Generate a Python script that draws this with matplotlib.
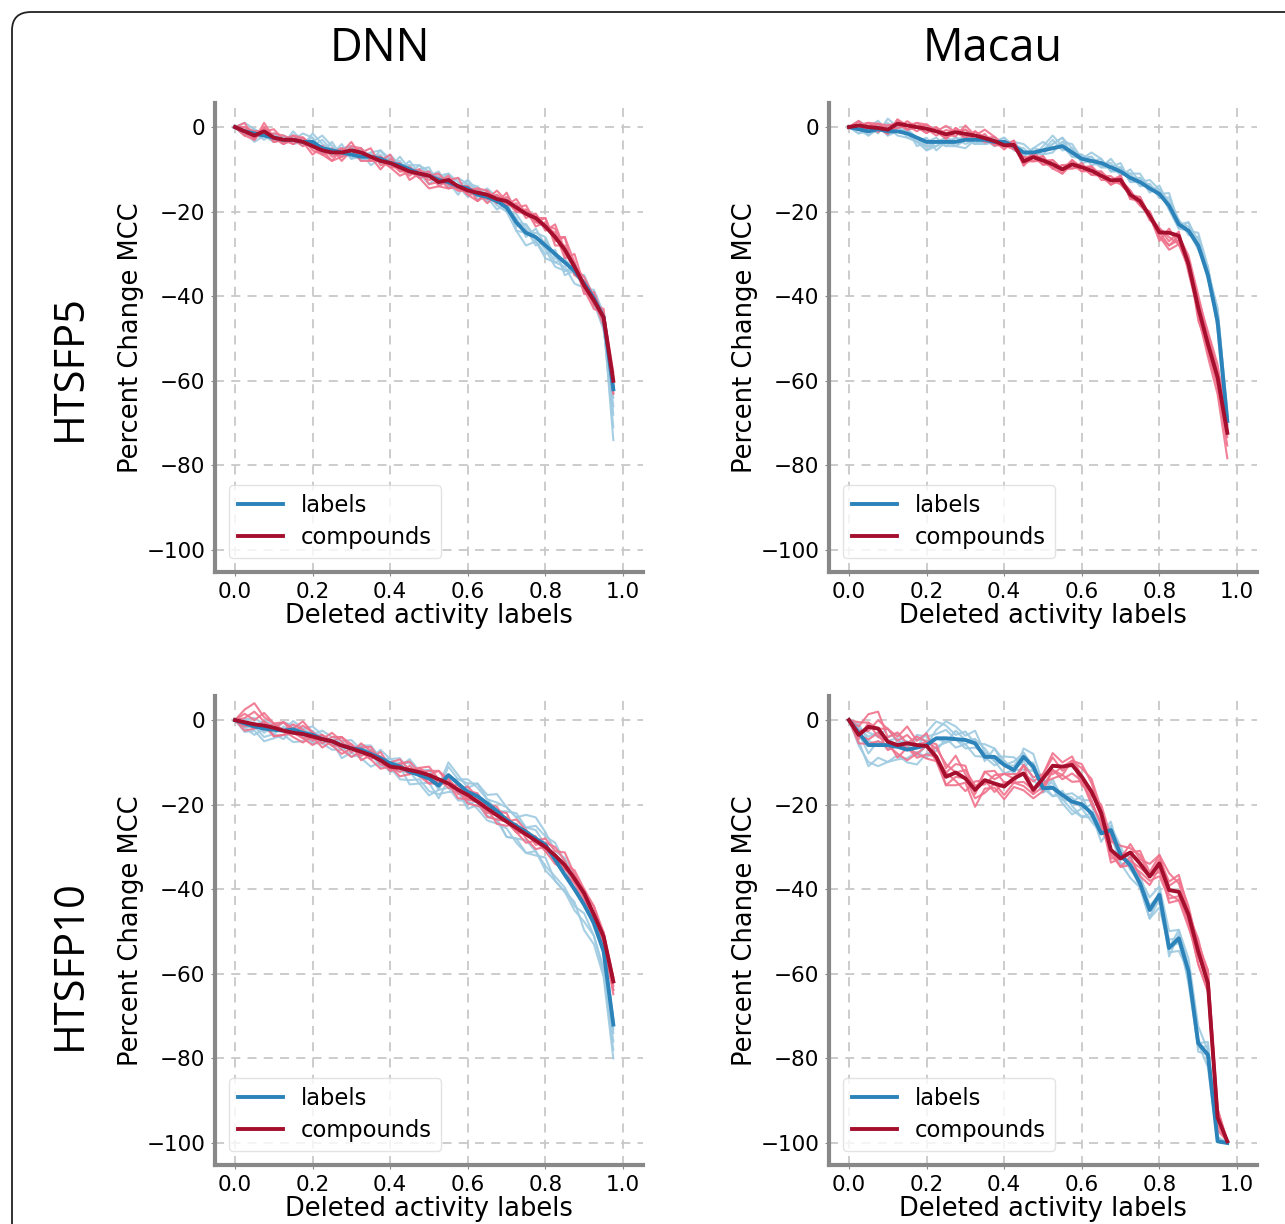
import numpy as np
import matplotlib.pyplot as plt
from matplotlib.patches import FancyBboxPatch

# fraction of deleted activity labels (0 .. 0.975, step 0.025)
x = np.arange(40) * 0.025

# mean curves
dnn5_labels = [0, -1, -1.5, -2, -2.5, -3, -3, -3.5, -3.5, -5, -5.5, -6, -6.5, -7, -7,
               -7.5, -8.5, -9, -10, -11, -11.5, -12.5, -13, -14, -14.5, -16, -16.5,
               -17.5, -19, -22.5, -25, -26, -28, -30, -32, -34, -37, -40.5, -45, -62]
dnn5_compounds = [0, -1, -2, -1, -2.5, -3, -3, -3.5, -4.5, -5.5, -6, -6, -5.5, -6, -7,
                  -8, -8.5, -9.5, -10.5, -11, -11.5, -13, -12.5, -14, -15, -15.5, -16,
                  -17, -17.5, -19, -20.5, -21.5, -23.5, -26, -29, -33, -37.5, -41, -45, -60]
macau5_labels = [0, -0.5, -1, -0.5, -1, -1, -1.5, -2.5, -3.5, -3.5, -3.5, -3.5, -3, -3,
                 -3, -3.5, -3.5, -4.5, -6, -6, -5.5, -5, -4.5, -6, -7.5, -8, -8.5, -9.5,
                 -10.5, -12, -13, -14.5, -15.8, -18.6, -23, -24.5, -28, -35, -46, -69.5]
macau5_compounds = [0, 0.4, 0, -0.2, -0.6, 0.8, 0.4, 0, -0.4, -1, -1.7, -1.2, -1.6, -2,
                    -2.6, -3.3, -4.3, -4.2, -8.1, -7.1, -7.9, -8.8, -10, -8.8, -9.5, -10.3,
                    -11.5, -12.6, -12.5, -16, -17.5, -21, -24.9, -25, -25.7, -32.4, -42.7,
                    -51.3, -59.2, -72.3]
dnn10_labels = [0, -0.8, -1.5, -2, -2.3, -2.5, -2.2, -3, -3.5, -4.5, -5, -6, -6.7, -7,
                -8, -9, -10.2, -11, -12.2, -13, -13.8, -15.5, -13, -15, -17, -18, -19.7,
                -21.5, -23.6, -25, -26.4, -28, -29.5, -33, -36.6, -40, -43.7, -48, -54.7, -72]
dnn10_compounds = [0, -0.5, -1, -1.3, -1.8, -2.5, -3, -3.3, -3.9, -4.5, -5, -6, -6.7,
                   -7.5, -8.3, -9.5, -11, -11.3, -11.8, -12.3, -13, -14, -15, -16.5, -17.7,
                   -19.3, -20.9, -22.5, -24, -25.5, -27, -28.5, -30, -32, -34.3, -37.5,
                   -41, -46, -51.2, -61.8]
macau10_labels = [0, -3, -5.9, -5.9, -5.9, -6.3, -7, -6.5, -5.9, -4.3, -4.3, -4.5, -4.7,
                  -5.5, -8.7, -8.7, -10.6, -11.8, -8.7, -11, -16.1, -16, -17.7, -19.3,
                  -19.9, -22, -26.8, -26, -31.9, -34.3, -38.6, -44.9, -41.3, -53.9, -51.6,
                  -59.4, -76.4, -79.1, -99.6, -100]
macau10_compounds = [0, -3.5, -1.6, -2, -5.1, -5.9, -5.5, -5.9, -6.1, -8.7, -13.4, -12.4,
                     -13.8, -16.5, -14.2, -15, -15.7, -13.8, -12.6, -16.5, -13.8, -10.8,
                     -11, -10.6, -13.4, -16.9, -22, -30.7, -32.7, -31.3, -33.9, -37, -33.9,
                     -40.2, -40.6, -46, -54.7, -62.2, -94, -99.6]

# per-run deviations from the mean (thin lines), read approximately
dnn5_labels_runs = [
    "0 1 0 -1 1 0 1 -1 2 1 0 1 2 -1 1 2 0 1 -1 2 1 0 2 1 -1 0 2 1 0 1 -1 2 0 -2 1 -1 2 0 -1 -12",
    "0 -1 1 0 -1 1 -1 0 1 -1 2 -1 0 1 -2 0 1 -1 2 0 -2 1 -1 2 1 -1 0 -2 1 -1 2 -1 -2 1 -3 0 -1 2 1 -6",
    "0 1 -1 1 0 -1 0 1 -1 0 -1 2 -1 0 1 -1 2 0 1 -1 0 2 -1 0 -2 1 -1 0 2 -2 0 1 2 -1 0 2 -2 -1 -3 -2",
    "0 -1 0 1 -1 0 1 0 -1 2 0 -1 1 -1 0 1 -1 2 0 -1 1 -1 0 -2 2 0 1 -1 -1 2 1 -2 1 0 -2 1 0 -2 0 2",
    "0 0 -2 0 1 -1 2 0 0 3 1 0 2 0 -1 2 1 -1 1 2 0 1 2 -1 1 2 0 1 -1 -2 -3 -1 -3 -2 -1 -3 -1 0 -2 -9",
    "0 2 1 0 -1 1 0 2 1 -1 0 1 -1 2 0 -1 1 0 -1 1 2 -1 1 0 2 1 -1 0 1 0 2 0 -1 -3 -2 0 -1 1 -2 -4",
]
dnn5_compounds_runs = [
    "0 2 -1 1 0 -1 1 0 -2 1 -1 0 2 -1 0 -2 1 0 -1 1 -2 0 1 -1 0 1 -1 2 0 -1 1 0 2 -1 3 -2 1 -1 2 -3",
    "0 -1 1 0 -1 0 -1 1 0 -1 1 -2 0 1 -1 0 2 -1 1 0 1 -1 0 2 -1 0 -2 1 -1 2 0 1 -1 3 0 1 -2 2 0 1",
    "0 1 0 -1 1 1 0 -1 1 0 -2 1 -1 0 2 -1 0 1 -2 0 -1 1 -1 0 1 -2 0 -1 1 0 2 -1 0 1 -2 3 0 -1 1 2",
    "0 0 -1 2 0 -1 0 1 -1 -1 0 1 -1 -1 0 1 -1 0 1 -1 0 2 -1 -1 0 1 1 -1 2 -1 0 -1 2 -2 1 -1 1 0 -2 -1",
    "0 1 1 0 2 0 -1 1 0 -1 -2 -1 0 -2 -1 0 -1 -2 0 -1 -3 -1 -2 0 -1 -2 1 0 -1 1 -1 1 0 2 -1 0 2 1 -1 -3",
    "0 -1 -1 1 -1 0 1 1 0 1 0 -1 1 1 -1 1 0 -1 0 1 0 1 -2 0 1 0 -1 1 0 -1 1 -2 1 0 3 1 -1 -2 1 0",
]
macau5_labels_runs = [
    "0 2 1 -1 3 1 0 -1 1 -2 0 1 -1 0 1 -1 0 1 -1 1 0 2 -1 1 0 2 1 -1 1 0 1 -1 2 0 1 -1 2 1 3 2",
    "0 -1 0 1 -1 0 1 -2 0 1 -1 -1 0 1 0 1 -1 0 1 -1 1 3 0 -1 1 -1 0 1 -1 2 0 1 -1 2 1 0 -1 2 -2 -3",
    "0 0 -1 0 1 -1 -1 0 -2 -1 1 0 1 -1 -1 0 1 -1 0 0 -1 1 2 -1 0 1 -1 0 2 -1 1 0 1 -1 -1 2 1 0 1 1",
    "0 1 1 2 0 1 0 -1 -1 0 -1 1 0 -1 1 0 -1 1 2 0 -1 -1 1 0 1 0 -1 2 0 1 -1 1 0 3 0 1 0 -1 2 -1",
    "0 -1 1 0 2 0 1 0 -1 -1 0 -1 -2 0 -1 0 1 0 -1 1 2 0 1 2 0 1 -1 0 1 -1 0 2 1 0 -1 0 3 2 1 -2",
    "0 1 -1 1 -1 2 -1 -1 -2 0 1 -1 0 -1 0 -1 0 1 0 -1 0 1 2 1 -1 0 1 -1 0 1 2 0 1 1 0 2 0 1 3 1",
]
macau5_compounds_runs = [
    "0 -1 1 0 -1 1 -1 0 1 0 -1 1 -1 1 0 -1 1 0 -1 0 1 -1 1 -1 0 1 0 -1 1 -1 0 -1 1 -1 -2 1 -2 -3 -4 -6",
    "0 1 -1 1 0 -1 1 0 -1 1 0 -1 2 0 -1 0 -1 1 0 1 -1 0 -1 1 -1 0 1 -1 0 1 -1 1 -1 -3 0 2 3 2 1 3",
    "0 0 1 -1 1 0 -1 1 0 -1 1 0 -1 1 0 1 0 -1 1 -1 0 1 0 -1 1 -1 0 1 -1 0 1 0 -2 1 -2 -1 1 -2 -2 -3",
    "0 1 0 0 -1 1 0 -1 1 0 -1 1 0 -1 1 -1 0 1 -1 1 0 -1 1 0 -1 1 -1 0 1 -1 1 0 1 -2 1 -2 -1 2 2 4",
    "0 0 1 1 0 -1 0 1 1 0 2 0 1 0 2 1 0 -1 1 0 -1 1 0 1 0 -1 1 0 -1 0 -1 1 0 -3 -1 1 -3 -1 -2 -1",
    "0 -1 0 1 1 0 -1 0 -1 1 -1 0 1 -1 0 -1 1 0 0 -1 1 -1 -1 0 0 1 0 -1 0 1 -1 0 -1 -4 -2 0 2 3 3 2",
]
dnn10_labels_runs = [
    "0 -2 -1 -3 -2 -1 -3 -2 0 -1 -2 -1 1 -1 0 -2 -1 -3 -2 -1 -3 -2 -4 -2 -3 -1 -3 -2 -4 -3 -5 -4 -3 -5 -4 -3 -6 -5 -6 -8",
    "0 1 2 1 0 2 1 -1 1 0 -1 2 0 1 -1 2 1 0 3 1 2 0 3 2 1 3 2 4 3 2 4 5 3 2 4 3 2 1 2 -2",
    "0 -1 0 -2 -1 1 -1 0 -2 1 -1 0 -2 -1 1 0 -2 -1 0 -2 -1 -3 -1 -2 -4 -2 -3 -2 -4 -3 -2 -3 -5 -4 -3 -4 -2 -3 -4 -4",
    "0 0 1 -1 1 0 2 1 0 2 1 1 -1 1 2 0 1 2 0 1 2 1 -1 1 2 3 1 2 3 2 1 3 2 4 3 2 3 1 2 1",
    "0 -1 -2 0 -1 -2 0 -1 -2 -1 0 -3 -1 -2 -3 -1 -2 0 -3 -2 -4 -1 -3 -4 -2 -3 -4 -3 -2 -4 -5 -3 -6 -5 -4 -5 -4 -3 -5 -6",
    "0 1 0 2 1 2 0 1 2 1 0 1 2 0 1 -1 0 1 2 0 1 -1 2 1 3 2 1 0 2 3 1 2 0 1 2 0 1 -1 0 -1",
]
dnn10_compounds_runs = [
    "0 2 1 3 1 2 0 2 1 -1 1 2 0 1 2 0 -1 1 2 0 1 2 1 0 2 1 -1 1 0 2 1 -1 1 2 1 -1 1 2 0 -1",
    "0 -2 -1 0 -2 -1 1 -1 -2 0 -1 -2 0 -1 1 -1 0 -2 -1 0 -2 -1 0 -2 -1 0 -2 -1 0 -1 -2 0 -1 -2 -1 0 -1 -2 -1 -3",
    "0 1 3 1 0 2 1 3 1 0 2 1 -1 2 1 0 1 2 0 1 2 0 1 -1 1 2 0 1 2 -1 1 0 2 1 3 1 0 2 1 1",
    "0 -1 0 -1 1 0 -1 -2 0 1 -1 0 1 -2 0 1 -1 0 -1 1 0 -1 1 0 -1 1 -1 0 1 -1 0 1 -1 0 -1 1 0 -1 -1 -2",
    "0 3 5 2 1 0 2 1 -1 1 0 2 1 0 -1 2 0 1 -1 1 0 2 0 1 -1 0 1 2 0 -1 1 0 1 -1 0 2 1 0 1 0",
    "0 0 -1 1 -2 -1 0 -1 0 -2 0 -1 -2 0 -1 -2 0 -1 1 -1 -2 0 -1 0 -2 -1 0 -2 -1 1 -1 -2 0 -1 -2 -1 -2 -1 -2 -2",
]
macau10_labels_runs = [
    "0 -2 -5 -3 -4 -2 -3 -4 -2 -3 0 -2 -1 -3 0 -2 1 0 -3 -1 2 0 -1 -2 -3 -1 2 0 1 -1 2 1 0 -2 1 -3 -1 2 0 0",
    "0 1 3 2 4 1 2 0 3 4 3 1 2 0 3 2 1 -1 2 3 1 -2 0 2 1 3 1 -2 0 2 1 3 2 4 2 3 4 1 1 0",
    "0 0 -2 1 -1 0 1 -2 0 2 4 3 1 3 1 0 2 3 -2 1 0 -2 1 -1 -3 0 -2 1 -2 0 -1 -2 1 -1 -3 0 -2 0 0 0",
    "0 2 1 0 2 3 1 2 1 0 -1 2 0 1 -1 2 0 1 1 0 -1 2 -1 0 2 -1 0 2 -1 1 0 -2 -1 2 0 -1 1 -1 1 0",
    "0 -3 -4 -5 -4 -3 -2 -1 -3 -2 -1 0 -2 -1 1 -1 -2 0 -1 -3 -1 0 -2 -3 -1 -2 0 -1 -2 -3 -1 -2 -3 0 -1 -2 0 -3 0 0",
    "0 1 2 3 1 2 0 3 2 1 2 0 -1 1 2 -1 0 2 1 -1 2 1 0 1 -1 2 0 1 2 -1 0 1 -1 0 2 1 0 3 0 0",
]
macau10_compounds_runs = [
    "0 2 3 4 1 3 0 2 1 3 2 4 1 0 2 3 1 -1 2 3 1 -2 0 1 2 3 1 -2 0 2 1 3 2 1 3 2 1 3 2 0",
    "0 -2 -4 -3 -1 -2 -4 -2 -3 -1 -2 -3 -1 -4 -2 -1 -3 -2 -4 -2 -3 -1 -2 -4 -1 -3 -2 0 -2 -1 -3 -2 -1 -3 -2 -1 -3 -2 -2 0",
    "0 1 -1 2 3 1 2 0 1 2 3 0 2 1 -1 2 3 1 0 2 1 2 -1 1 3 2 0 2 3 1 2 0 1 2 4 1 2 3 1 0",
    "0 -1 1 -2 0 -3 -1 -2 0 -1 1 -2 -3 2 0 -2 1 -1 -2 0 -1 -3 -2 1 -2 0 -1 -3 0 -2 -1 0 -2 -1 -2 -3 -1 0 -3 0",
    "0 3 1 0 3 2 4 1 3 0 1 2 3 -1 2 1 3 0 2 -1 1 3 1 2 0 -1 2 3 1 0 3 1 2 4 2 0 3 1 2 0",
    "0 0 -3 -1 -2 0 -1 -3 -2 0 -2 -1 0 -2 -3 0 -2 -1 -3 -1 -2 -1 -3 -2 -1 -2 -3 -1 -2 -3 -2 -1 -3 -2 -1 -2 -3 -2 0 0",
]

row_names = ["HTSFP5", "HTSFP10"]
col_names = ["DNN", "Macau"]
legend_names = ["labels", "compounds"]

panels = [
    [(dnn5_labels, dnn5_labels_runs, dnn5_compounds, dnn5_compounds_runs),
     (macau5_labels, macau5_labels_runs, macau5_compounds, macau5_compounds_runs)],
    [(dnn10_labels, dnn10_labels_runs, dnn10_compounds, dnn10_compounds_runs),
     (macau10_labels, macau10_labels_runs, macau10_compounds, macau10_compounds_runs)],
]

blue_dark, blue_light = "#2b83ba", "#9ecae1"
red_dark, red_light = "#a50f2d", "#f0728c"

plt.rcParams["font.family"] = "DejaVu Sans"
fig = plt.figure(figsize=(12.85, 12.24), dpi=100)

# rounded frame around the whole figure
frame = FancyBboxPatch((12 / 1285, -0.05), 1.2, 1 - 12 / 1224 + 0.05,
                       boxstyle="round,pad=0,rounding_size=0.015",
                       transform=fig.transFigure, fill=False, edgecolor="#222222",
                       linewidth=1.3)
fig.patches.append(frame)

lefts = [215 / 1285, 829 / 1285]
bottoms = [1 - 572 / 1224, 1 - 1165 / 1224]
w, h = 428 / 1285, 469 / 1224

for r in range(2):
    for c in range(2):
        ax = fig.add_axes([lefts[c], bottoms[r], w, h])
        lab, lab_runs, cmp_, cmp_runs = panels[r][c]
        lab = np.array(lab)
        cmp_ = np.array(cmp_)
        for run in lab_runs:
            dev = np.array(run.split(), dtype=float)
            ax.plot(x, np.maximum(lab + dev, -100), color=blue_light, lw=1.5, alpha=0.9)
        for run in cmp_runs:
            dev = np.array(run.split(), dtype=float)
            ax.plot(x, np.maximum(cmp_ + dev, -100), color=red_light, lw=1.5, alpha=0.9)
        ax.plot(x, lab, color=blue_dark, lw=2.8, label=legend_names[0])
        ax.plot(x, cmp_, color=red_dark, lw=2.8, label=legend_names[1])

        ax.set_xlim(-0.0515, 1.0515)
        ax.set_ylim(-105.2, 5.7)
        ax.set_xticks([0, 0.2, 0.4, 0.6, 0.8, 1.0])
        ax.set_yticks([0, -20, -40, -60, -80, -100])
        ax.grid(True, linestyle=(0, (5, 4)), color="#c8c8c8", linewidth=1.3)
        ax.set_axisbelow(True)
        for s in ["top", "right"]:
            ax.spines[s].set_visible(False)
        for s in ["left", "bottom"]:
            ax.spines[s].set_color("#888888")
            ax.spines[s].set_linewidth(3)
        ax.tick_params(labelsize=15.5, length=3, color="#888888", pad=4)
        ax.set_xlabel("Deleted activity labels", fontsize=18.5, labelpad=1)
        ax.set_ylabel("Percent Change MCC", fontsize=18.5, labelpad=2)
        leg = ax.legend(loc="lower left", fontsize=16.3, frameon=True,
                        handlelength=2.0, borderaxespad=0.6, labelspacing=0.4)
        leg.get_frame().set_edgecolor("#dddddd")
        for line in leg.get_lines():
            line.set_linewidth(2.8)

for c, name in enumerate(col_names):
    fig.text([380 / 1285, 993 / 1285][c], 1 - 49 / 1224, name, ha="center",
             va="center", fontsize=32.5, family="Open Sans")
for r, name in enumerate(row_names):
    fig.text(70 / 1285, 1 - [368 / 1224, 965 / 1224][r], name, ha="center",
             va="center", rotation=90, fontsize=30, family="Open Sans")

fig.savefig("out.png", dpi=100)
